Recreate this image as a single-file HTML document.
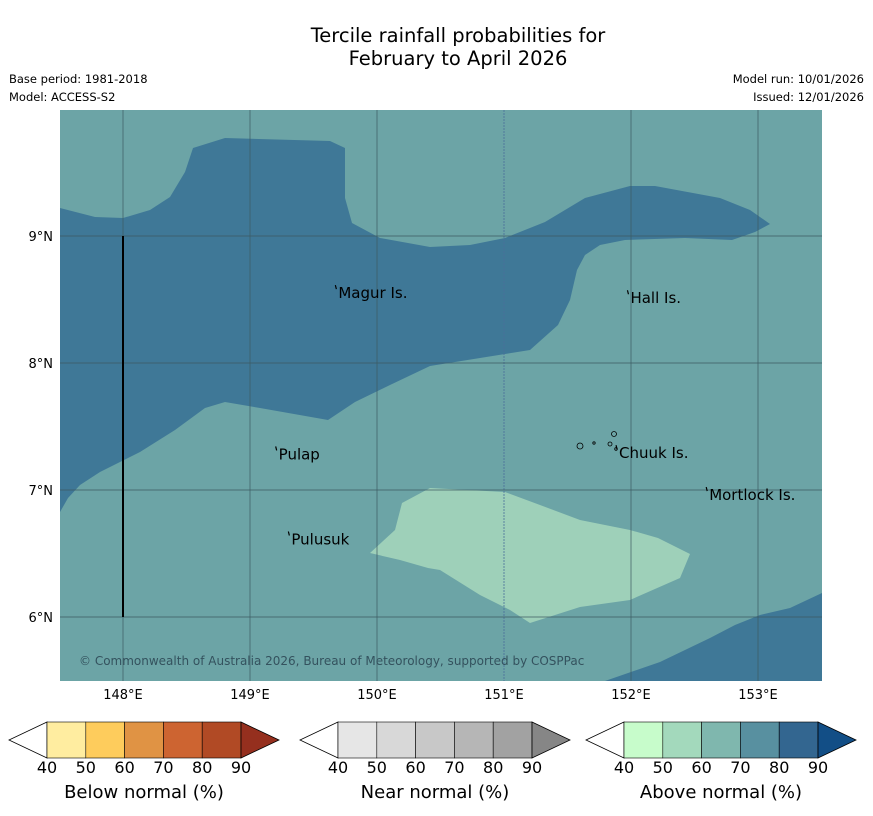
<!DOCTYPE html>
<html><head><meta charset="utf-8"><style>
body{margin:0;background:#fff;}
svg{display:block;font-family:"DejaVu Sans","Liberation Sans",sans-serif;}
</style></head><body>
<svg id="c" width="873" height="816" viewBox="0 0 873 816">
<rect width="873" height="816" fill="#fff"/>
<text x="458" y="42" text-anchor="middle" font-size="19.5">Tercile rainfall probabilities for</text>
<text x="458" y="65" text-anchor="middle" font-size="19.5">February to April 2026</text>
<text x="9" y="83" font-size="11.5">Base period: 1981-2018</text>
<text x="9" y="101" font-size="11.5">Model: ACCESS-S2</text>
<text x="864" y="83" font-size="11.5" text-anchor="end">Model run: 10/01/2026</text>
<text x="864" y="101" font-size="11.5" text-anchor="end">Issued: 12/01/2026</text>
<defs><clipPath id="mc"><rect x="60" y="110" width="762" height="571"/></clipPath></defs>
<g clip-path="url(#mc)">
<rect x="60" y="110" width="762" height="571" fill="#6ca4a6"/>
<polygon fill="#3f7897" points="60,208 95,217 123,218 150,210 170,197 185,172 193,148 225,138 330,141 345,148 345,198 352,223 380,238 430,247 470,245 505,238 545,222 585,198 630,186 655,186 720,198 750,210 770,224 755,232 732,240 685,238 625,240 600,245 585,255 577,270 570,300 558,325 530,350 480,358 430,366 390,385 355,402 328,420 260,408 225,402 205,408 175,430 140,452 100,472 80,485 68,498 60,512"/>
<polygon fill="#3f7897" points="605,681 660,662 710,638 735,625 760,615 790,608 822,593 822,681"/>
<polygon fill="#9ed0b9" points="370,553 395,530 402,503 430,488 505,492 540,505 580,520 630,530 658,538 690,554 680,578 630,600 580,607 530,623 510,610 480,595 440,570 428,568 400,560"/>
<g id="grid"></g>
<line x1="123" y1="236" x2="123" y2="617" stroke="#000" stroke-width="2"/>
<g fill="none" stroke="#000" stroke-width="0.8">
<circle cx="580" cy="446" r="3"/><circle cx="594" cy="443" r="1.2"/><circle cx="614" cy="434" r="2.5"/><circle cx="610" cy="444" r="2"/><circle cx="616" cy="449" r="1.3"/>
</g>
<g id="places"></g>
<text x="79" y="665" font-size="12" fill="#34525e">© Commonwealth of Australia 2026, Bureau of Meteorology, supported by COSPPac</text>
</g>
<g id="ticks"></g>
<g id="bars"></g>
</svg>
<script>
const lonTicks=[148,149,150,151,152,153];
const latTicks=[9,8,7,6];
const places=[["Magur Is.",149.68,8.55],["Hall Is.",151.98,8.51],["Pulap",149.21,7.28],["Chuuk Is.",151.89,7.29],["Mortlock Is.",152.6,6.96],["Pulusuk",149.31,6.61]];
const levels=[40,50,60,70,80,90];
const belowColors=["#ffeda0","#fecc5c","#e09344","#cd6431","#b14a25","#952f1e"];
const nearColors=["#e6e6e6","#d8d8d8","#c8c8c8","#b6b6b6","#a2a2a2","#868686"];
const aboveColors=["#c7fccb","#a3d9bc","#7fb7ae","#5890a0","#336690","#124e86"];
const barTitles=["Below normal (%)","Near normal (%)","Above normal (%)"];
const NS="http://www.w3.org/2000/svg";
const X=lon=>123+(lon-148)*127, Y=lat=>236+(9-lat)*127;
function mk(t,a,p){const e=document.createElementNS(NS,t);for(const k in a)e.setAttribute(k,a[k]);p.appendChild(e);return e;}
const grid=document.getElementById('grid'),ticks=document.getElementById('ticks');
lonTicks.forEach(v=>{const l=mk('line',{x1:X(v),x2:X(v),y1:110,y2:681,stroke:v===151?'#4a6f9a':'#3d5a62','stroke-width':v===151?0.8:0.7,'stroke-dasharray':v===151?'2,1':'none'},grid);


const t=mk('text',{x:X(v),y:699,'font-size':13,'text-anchor':'middle'},ticks);t.textContent=v+'°E';

});
latTicks.forEach(v=>{const l=mk('line',{x1:60,x2:822,y1:Y(v),y2:Y(v),stroke:'#3d5a62','stroke-width':0.7},grid);


const t=mk('text',{x:53,y:Y(v)+5,'font-size':13,'text-anchor':'end'},ticks);t.textContent=v+'°N';

});
const pg=document.getElementById('places');
places.forEach(p=>{const t=mk('text',{x:X(p[1])+2,y:Y(p[2])+5,'font-size':15},pg);t.textContent=p[0];


const d=mk('path',{d:`M${X(p[1])-1},${Y(p[2])-8} l1,4`,stroke:'#000','stroke-width':1.2},pg);

});
const bars=document.getElementById('bars');
[belowColors,nearColors,aboveColors].forEach((cols,i)=>{
 const x0=[47,338,624][i],w=38.8,y0=722,h=36;
 const g=mk('g',{},bars);
 
 
 mk('polygon',{points:`${x0},${y0} ${x0-38},${y0+h/2} ${x0},${y0+h}`,fill:'#fff',stroke:'#000','stroke-width':0.8},g);
 for(let k=0;k<5;k++)mk('rect',{x:x0+k*w,y:y0,width:w,height:h,fill:cols[k],stroke:'#000','stroke-width':0.6},g);
 const xe=x0+5*w;
 mk('polygon',{points:`${xe},${y0} ${xe+38},${y0+h/2} ${xe},${y0+h}`,fill:cols[5],stroke:'#000','stroke-width':0.8},g);
 levels.forEach((lv,k)=>{const t=mk('text',{x:x0+k*w,y:773,'font-size':16,'text-anchor':'middle'},g);t.textContent=lv;
 
 });
 const t=mk('text',{x:x0+2.5*w,y:798,'font-size':18,'text-anchor':'middle'},g);t.textContent=barTitles[i];
 
 
});
</script>
</body></html>
